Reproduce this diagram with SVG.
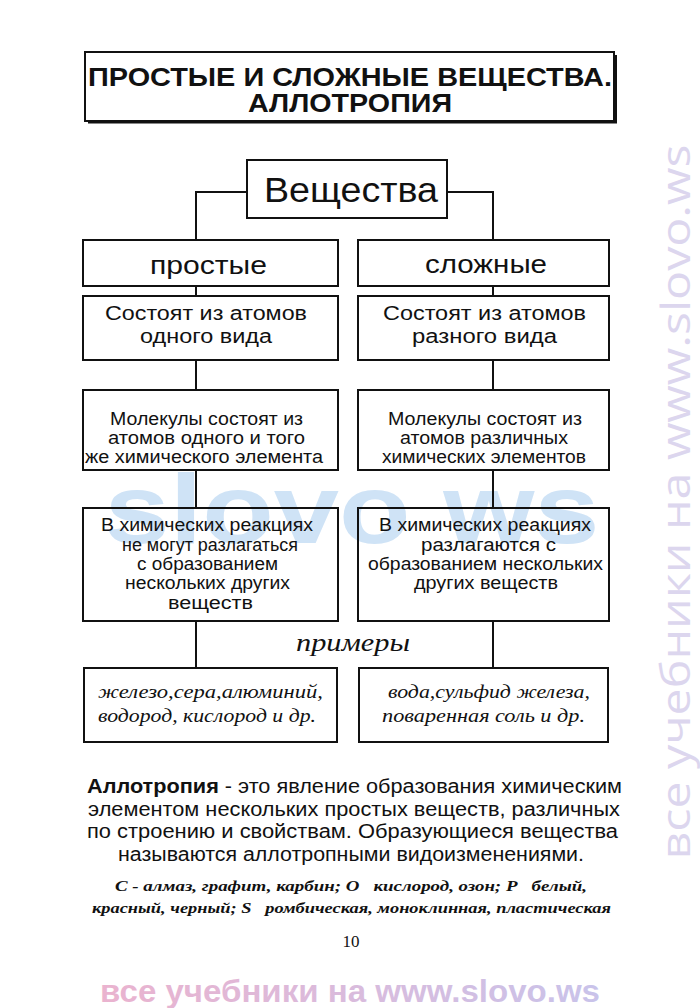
<svg xmlns="http://www.w3.org/2000/svg" width="700" height="1008" viewBox="0 0 700 1008">
<defs>
<linearGradient id="wm" x1="0" y1="0" x2="1" y2="0">
<stop offset="0" stop-color="#eab3cf"/>
<stop offset="1" stop-color="#c9c3ea"/>
</linearGradient>
<style>
.box{fill:none;stroke:#111;stroke-width:2}
.ln{fill:none;stroke:#111;stroke-width:2}
.s{font-family:"Liberation Sans",Arial,sans-serif;fill:#111;text-anchor:middle}
.it{font-family:"Liberation Serif","Times New Roman",serif;font-style:italic;fill:#111;text-anchor:middle}
text{lengthAdjust:spacingAndGlyphs}
</style>
</defs>
<rect width="700" height="1008" fill="#fff"/>
<g id="watermarks">
<text x="352" y="543" font-family="Liberation Sans,sans-serif" font-weight="bold" font-size="98" fill="#cfe3f6" text-anchor="middle" textLength="495" lengthAdjust="spacingAndGlyphs">slovo ws</text>
<text transform="translate(690,502) rotate(-90)" font-family="Open Sans,Liberation Sans,sans-serif" font-size="40" fill="#dcd6ee" text-anchor="middle" textLength="715" lengthAdjust="spacingAndGlyphs">все учебники на www.slovo.ws</text>
<text x="350" y="1002" font-family="Liberation Sans,sans-serif" font-weight="bold" font-size="31" fill="url(#wm)" text-anchor="middle" textLength="500" lengthAdjust="spacingAndGlyphs">все учебники на www.slovo.ws</text>
</g>
<g id="title">
<rect x="85" y="52" width="529" height="69" class="box"/>
<path d="M88 122.5 H616 V55" class="ln" stroke-width="3"/>
<text x="350" y="86" class="s" font-weight="bold" font-size="26" textLength="524" lengthAdjust="spacingAndGlyphs">ПРОСТЫЕ И СЛОЖНЫЕ ВЕЩЕСТВА.</text>
<text x="350" y="112" class="s" font-weight="bold" font-size="26" textLength="204" lengthAdjust="spacingAndGlyphs">АЛЛОТРОПИЯ</text>
</g>
<g id="connectors">
<path d="M247 192 H196 V240 M447 192 H493 V240" class="ln"/>
<path d="M196 286 V296 M493 286 V296" class="ln"/>
<path d="M196 360 V390 M493 360 V390" class="ln"/>
<path d="M196 470 V508 M493 470 V508" class="ln"/>
<path d="M196 621 V668 M493 621 V668" class="ln"/>
</g>
<g id="substances">
<rect x="247" y="160" width="200" height="58" class="box"/>
<text x="351" y="202" class="s" font-size="35" textLength="174" lengthAdjust="spacingAndGlyphs">Вещества</text>
</g>
<g id="simple">
<rect x="83" y="240" width="255" height="46" class="box"/>
<text x="208.5" y="274" class="s" font-size="26" textLength="117" lengthAdjust="spacingAndGlyphs">простые</text>
</g>
<g id="complex">
<rect x="358" y="240" width="251" height="46" class="box"/>
<text x="486" y="273" class="s" font-size="26" textLength="122" lengthAdjust="spacingAndGlyphs">сложные</text>
</g>
<g id="simple-atoms">
<rect x="83" y="296" width="255" height="64" class="box"/>
<text x="206" y="320" class="s" font-size="20" textLength="202" lengthAdjust="spacingAndGlyphs">Состоят из атомов</text>
<text x="206" y="343" class="s" font-size="20" textLength="132" lengthAdjust="spacingAndGlyphs">одного вида</text>
</g>
<g id="complex-atoms">
<rect x="358" y="296" width="251" height="64" class="box"/>
<text x="484.5" y="320" class="s" font-size="20" textLength="203" lengthAdjust="spacingAndGlyphs">Состоят из атомов</text>
<text x="484.5" y="343" class="s" font-size="20" textLength="145" lengthAdjust="spacingAndGlyphs">разного вида</text>
</g>
<g id="simple-molecules">
<rect x="83" y="390" width="255" height="80" class="box"/>
<text x="206.5" y="425" class="s" font-size="17.5" textLength="193" lengthAdjust="spacingAndGlyphs">Молекулы состоят из</text>
<text x="206.5" y="444" class="s" font-size="17.5" textLength="197" lengthAdjust="spacingAndGlyphs">атомов одного и того</text>
<text x="204" y="463" class="s" font-size="17.5" textLength="238" lengthAdjust="spacingAndGlyphs">же химического элемента</text>
</g>
<g id="complex-molecules">
<rect x="358" y="390" width="251" height="80" class="box"/>
<text x="485" y="425" class="s" font-size="17.5" textLength="194" lengthAdjust="spacingAndGlyphs">Молекулы состоят из</text>
<text x="484" y="444" class="s" font-size="17.5" textLength="168" lengthAdjust="spacingAndGlyphs">атомов различных</text>
<text x="484" y="463" class="s" font-size="17.5" textLength="204" lengthAdjust="spacingAndGlyphs">химических элементов</text>
</g>
<g id="simple-reactions">
<rect x="83" y="508" width="255" height="113" class="box"/>
<text x="207" y="531" class="s" font-size="17.5" textLength="212" lengthAdjust="spacingAndGlyphs">В химических реакциях</text>
<text x="210" y="551" class="s" font-size="17.5" textLength="176" lengthAdjust="spacingAndGlyphs">не могут разлагаться</text>
<text x="207.5" y="570" class="s" font-size="17.5" textLength="141" lengthAdjust="spacingAndGlyphs">с образованием</text>
<text x="207.5" y="589" class="s" font-size="17.5" textLength="165" lengthAdjust="spacingAndGlyphs">нескольких других</text>
<text x="210.5" y="609" class="s" font-size="17.5" textLength="85" lengthAdjust="spacingAndGlyphs">веществ</text>
</g>
<g id="complex-reactions">
<rect x="358" y="508" width="251" height="113" class="box"/>
<text x="485" y="531" class="s" font-size="17.5" textLength="212" lengthAdjust="spacingAndGlyphs">В химических реакциях</text>
<text x="488.5" y="551" class="s" font-size="17.5" textLength="135" lengthAdjust="spacingAndGlyphs">разлагаются с</text>
<text x="485.5" y="570" class="s" font-size="17.5" textLength="235" lengthAdjust="spacingAndGlyphs">образованием нескольких</text>
<text x="486" y="589" class="s" font-size="17.5" textLength="144" lengthAdjust="spacingAndGlyphs">других веществ</text>
</g>
<g id="examples-label">
<text x="353" y="651" class="it" font-size="25" textLength="114" lengthAdjust="spacingAndGlyphs">примеры</text>
</g>
<g id="simple-examples">
<rect x="84" y="668" width="253" height="74" class="box"/>
<text x="210.5" y="698" class="it" font-size="19" textLength="225" lengthAdjust="spacingAndGlyphs">железо,сера,алюминий,</text>
<text x="207" y="722" class="it" font-size="19" textLength="218" lengthAdjust="spacingAndGlyphs">водород, кислород и др.</text>
</g>
<g id="complex-examples">
<rect x="359" y="668" width="249" height="74" class="box"/>
<text x="489" y="698" class="it" font-size="19" textLength="202" lengthAdjust="spacingAndGlyphs">вода,сульфид железа,</text>
<text x="483.5" y="722" class="it" font-size="19" textLength="203" lengthAdjust="spacingAndGlyphs">поваренная соль и др.</text>
</g>
<g id="allotropy">
<text x="354.5" y="793" class="s" font-size="20" textLength="535" lengthAdjust="spacingAndGlyphs"><tspan font-weight="bold">Аллотропия</tspan> - это явление образования химическим</text>
<text x="354" y="816" class="s" font-size="20" textLength="532" lengthAdjust="spacingAndGlyphs">элементом нескольких простых веществ, различных</text>
<text x="352.5" y="838" class="s" font-size="20" textLength="531" lengthAdjust="spacingAndGlyphs">по строению и свойствам. Образующиеся вещества</text>
<text x="351" y="861" class="s" font-size="20" textLength="466" lengthAdjust="spacingAndGlyphs">называются аллотропными видоизменениями.</text>
<text x="351" y="891" class="it" font-weight="bold" font-size="15.5" xml:space="preserve" textLength="472" lengthAdjust="spacingAndGlyphs">С - алмаз, графит, карбин; О   кислород, озон; Р   белый,</text>
<text x="351.5" y="913" class="it" font-weight="bold" font-size="15.5" xml:space="preserve" textLength="519" lengthAdjust="spacingAndGlyphs">красный, черный; S   ромбическая, моноклинная, пластическая</text>
<text x="351" y="947" font-family="Liberation Serif,serif" font-size="17" fill="#111" text-anchor="middle">10</text>
</g>
</svg>
